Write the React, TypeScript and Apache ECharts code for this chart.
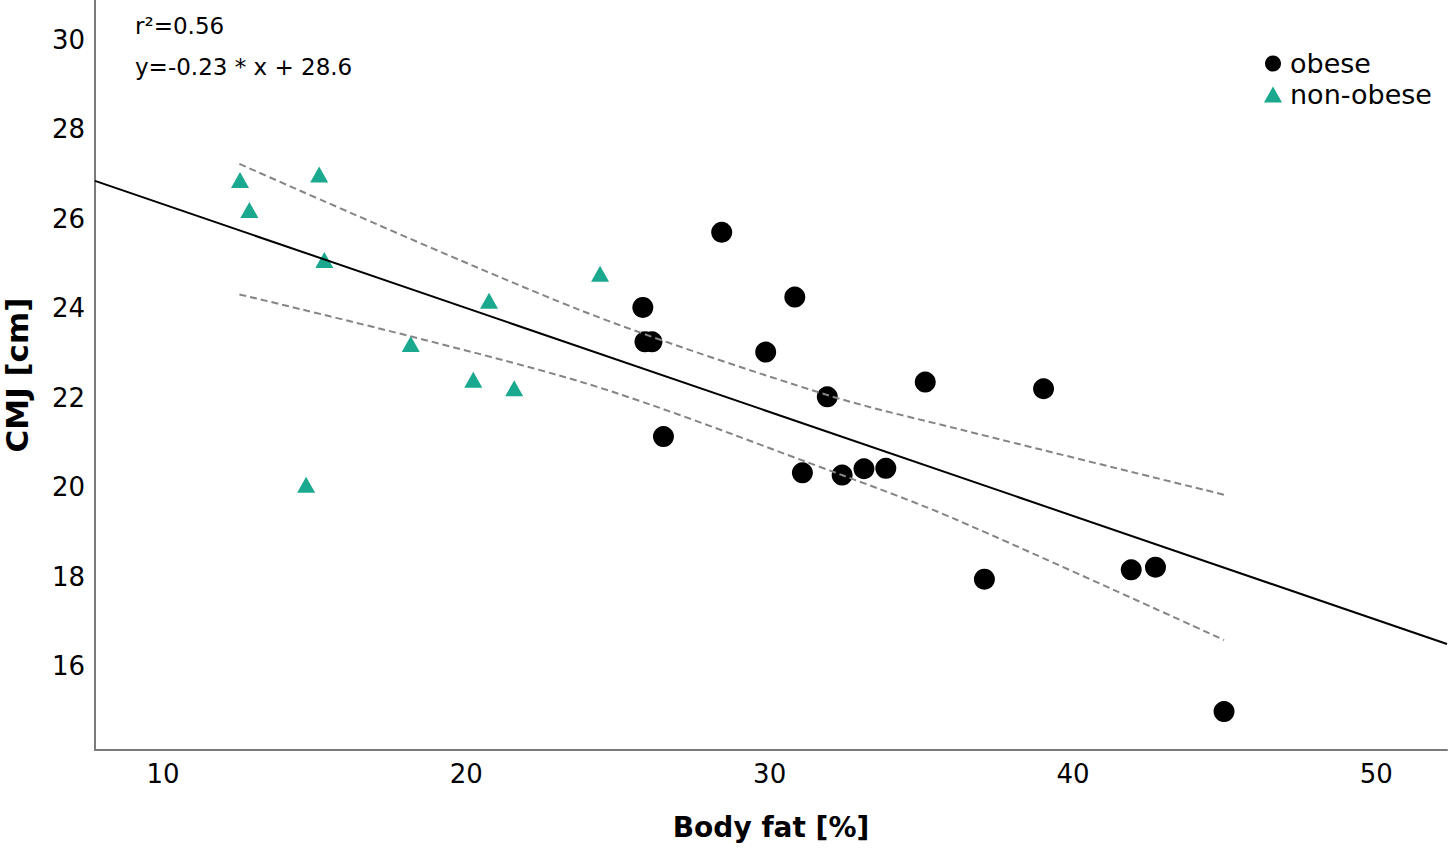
import React, { useEffect, useRef } from "react";
import * as echarts from "echarts";

const FONT = "DejaVu Sans";

// Obese group: body fat [%] and CMJ [cm]
const obeseBodyFat = [28.42, 25.82, 25.89, 26.12, 29.87, 30.83, 26.5, 31.9, 31.08, 32.39, 33.11, 33.83, 35.13, 39.03, 37.08, 41.92, 42.72, 44.98];
const obeseCMJ = [25.7, 24.02, 23.25, 23.25, 23.02, 24.25, 21.13, 22.02, 20.32, 20.27, 20.41, 20.42, 22.35, 22.2, 17.94, 18.15, 18.21, 14.98];

// Non-obese group
const nonObeseBodyFat = [12.54, 15.15, 12.85, 15.32, 20.75, 24.41, 18.17, 20.23, 21.58, 14.72];
const nonObeseCMJ = [26.87, 26.99, 26.2, 25.08, 24.17, 24.77, 23.2, 22.4, 22.21, 20.05];

// Regression line (y = -0.23 * x + 28.6), end points across the axis
const fitX = [7.76, 52.33];
const fitY = [26.85, 16.49];

// 95% confidence band
const upperX = [12.52, 23.75, 31.9, 36.28, 44.98];
const upperY = [27.23, 23.96, 22.06, 21.29, 19.83];
const lowerX = [12.52, 23.75, 32.38, 36.06, 44.98];
const lowerY = [24.31, 22.36, 20.27, 19.3, 16.58];

const xTicks = [10, 20, 30, 40, 50];
const yTicks = [16, 18, 20, 22, 24, 26, 28, 30];

const annotations = ["r²=0.56", "y=-0.23 * x + 28.6"];

const zip = (xs: number[], ys: number[]) => xs.map((x, i) => [x, ys[i]]);

export default function App() {
  const ref = useRef<HTMLDivElement>(null);

  useEffect(() => {
    if (!ref.current) return;
    const chart = echarts.init(ref.current, null, { renderer: "svg" });
    const axisLine = { show: true, onZero: false, lineStyle: { color: "#7a7a7a", width: 2 } };
    chart.setOption({
      animation: false,
      backgroundColor: "#ffffff",
      textStyle: { fontFamily: FONT },
      grid: { left: 95, right: 3, top: 0, bottom: 101, containLabel: false, outerBoundsMode: "none" },
      xAxis: {
        type: "value",
        min: 7.76,
        max: 52.33,
        name: "Body fat [%]",
        nameLocation: "middle",
        nameGap: 63,
        nameTextStyle: { fontSize: 28, fontWeight: "bold", color: "#000", fontFamily: FONT },
        axisLine,
        axisTick: { show: false },
        splitLine: { show: false },
        axisLabel: { customValues: xTicks, fontSize: 26, color: "#000", margin: 11, fontFamily: FONT },
      },
      yAxis: {
        type: "value",
        min: 14.12,
        max: 30.895,
        name: "CMJ [cm]",
        nameLocation: "middle",
        nameRotate: 90,
        nameGap: 63,
        nameTextStyle: { fontSize: 31, fontWeight: "bold", color: "#000", fontFamily: FONT },
        axisLine,
        axisTick: { show: false },
        splitLine: { show: false },
        axisLabel: { customValues: yTicks, fontSize: 26, color: "#000", margin: 10, fontFamily: FONT },
      },
      legend: {
        orient: "vertical",
        left: 1259,
        top: 45,
        itemWidth: 18,
        itemHeight: 16,
        itemGap: 4,
        selectedMode: false,
        textStyle: { fontSize: 27, lineHeight: 24, color: "#000", fontFamily: FONT, padding: [0, 0, 0, 3] },
        data: [
          { name: "obese", icon: "circle" },
          { name: "non-obese", icon: "triangle" },
        ],
      },
      graphic: [
        { type: "text", left: 135, top: 14, style: { text: annotations[0], font: `23px '${FONT}'`, fill: "#000" } },
        { type: "text", left: 135, top: 55, style: { text: annotations[1], font: `23px '${FONT}'`, fill: "#000" } },
      ],
      series: [
        {
          name: "obese",
          type: "scatter",
          symbol: "circle",
          symbolSize: 21,
          itemStyle: { color: "#000000", opacity: 1 },
          data: zip(obeseBodyFat, obeseCMJ),
          z: 2,
        },
        {
          name: "non-obese",
          type: "scatter",
          symbol: "triangle",
          symbolSize: [18, 16],
          itemStyle: { color: "#1aa88e", opacity: 1 },
          data: zip(nonObeseBodyFat, nonObeseCMJ),
          z: 2,
        },
        {
          name: "fit",
          type: "line",
          showSymbol: false,
          symbol: "none",
          lineStyle: { color: "#000", width: 2 },
          data: zip(fitX, fitY),
          z: 3,
          silent: true,
        },
        {
          name: "upper",
          type: "line",
          showSymbol: false,
          symbol: "none",
          smooth: 0.3,
          lineStyle: { color: "#858585", width: 2, type: [7, 4] },
          data: zip(upperX, upperY),
          z: 3,
          silent: true,
        },
        {
          name: "lower",
          type: "line",
          showSymbol: false,
          symbol: "none",
          smooth: 0.3,
          lineStyle: { color: "#858585", width: 2, type: [7, 4] },
          data: zip(lowerX, lowerY),
          z: 3,
          silent: true,
        },
      ],
    });
    return () => chart.dispose();
  }, []);

  return (
    <div
      ref={ref}
      style={{ position: "absolute", left: 0, top: 0, width: 1450, height: 851, background: "#fff" }}
    />
  );
}
